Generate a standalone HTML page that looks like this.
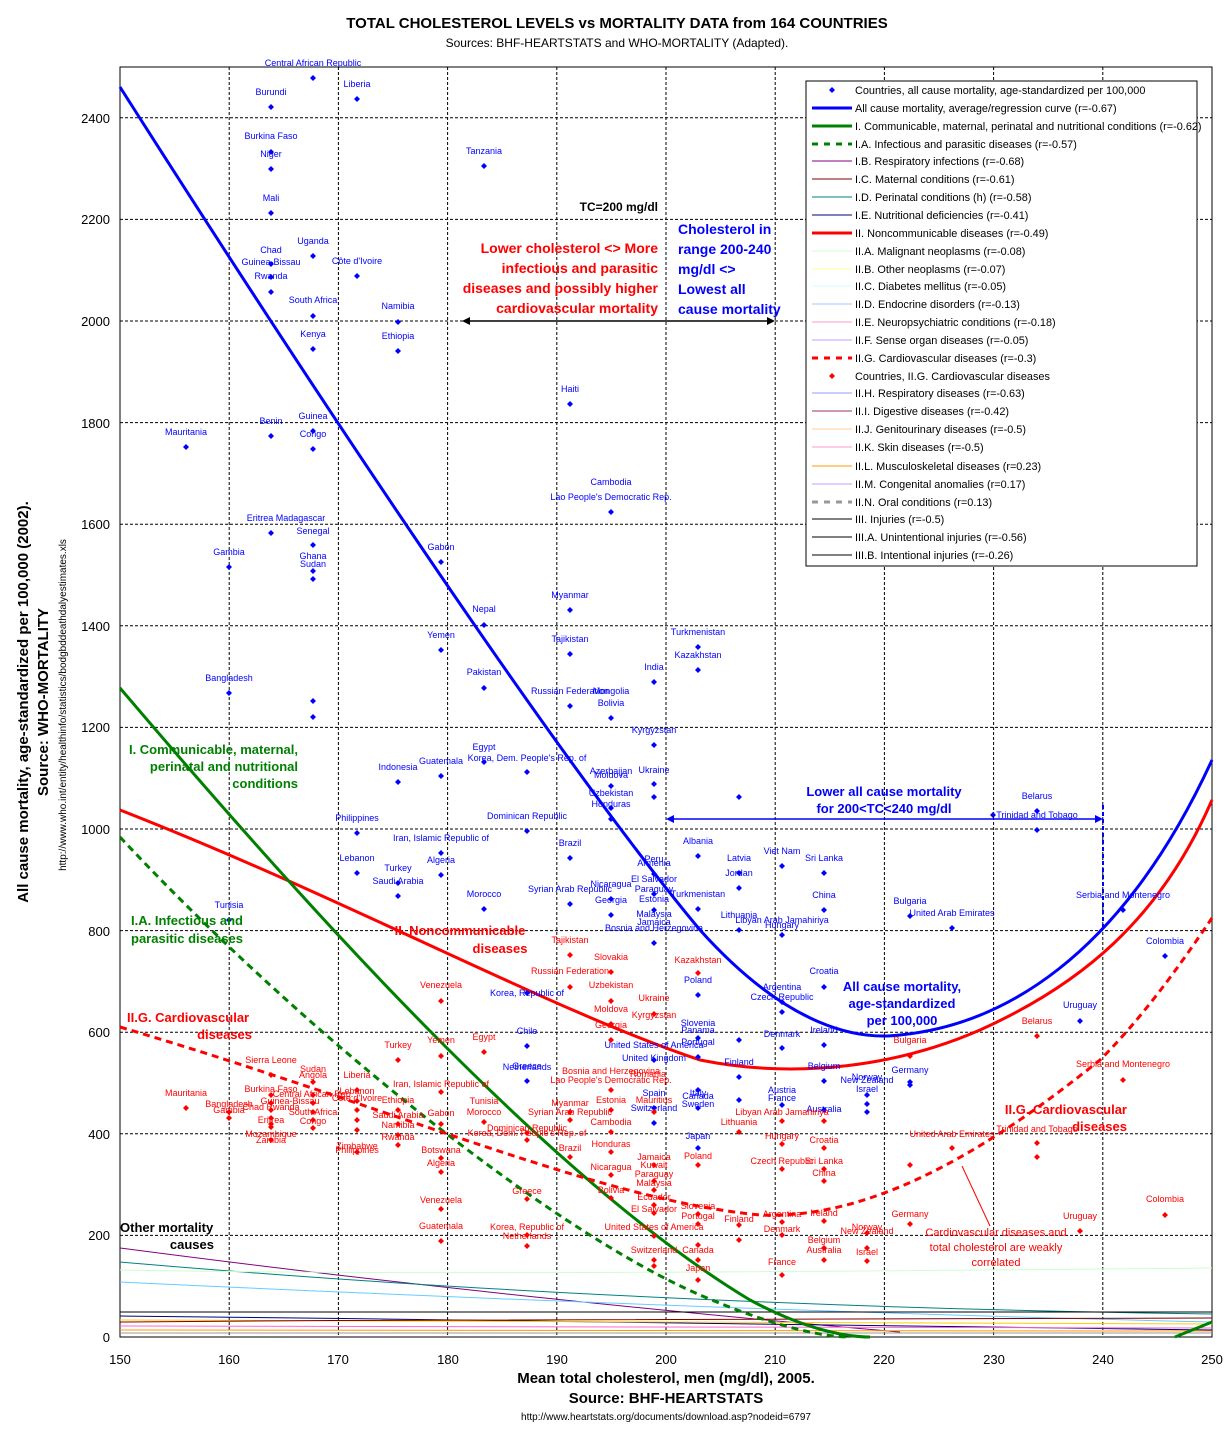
<!DOCTYPE html>
<html><head><meta charset="utf-8"><style>
body{margin:0;background:#fff}
svg{display:block;font-family:"Liberation Sans",Arial,sans-serif}
.b{fill:#0000ff}.r{fill:#ff0000}
.lb text{font-size:9px;text-anchor:middle}
</style></head><body>
<svg width="1224" height="1448" viewBox="0 0 1224 1448" xmlns="http://www.w3.org/2000/svg">
<defs><path id="d" d="M0,-3L3,0L0,3L-3,0Z"/></defs>
<rect width="1224" height="1448" fill="#fff"/>
<text x="617" y="28" font-size="15" font-weight="bold" text-anchor="middle">TOTAL CHOLESTEROL LEVELS vs MORTALITY DATA from 164 COUNTRIES</text>
<text x="617" y="47" font-size="12" text-anchor="middle">Sources: BHF-HEARTSTATS and WHO-MORTALITY (Adapted).</text>
<g stroke="#000" stroke-width="1" stroke-dasharray="3,2">
<line x1="229.2" y1="67" x2="229.2" y2="1337"/><line x1="338.4" y1="67" x2="338.4" y2="1337"/><line x1="447.6" y1="67" x2="447.6" y2="1337"/><line x1="556.8" y1="67" x2="556.8" y2="1337"/><line x1="666" y1="67" x2="666" y2="1337"/><line x1="775.2" y1="67" x2="775.2" y2="1337"/><line x1="884.4" y1="67" x2="884.4" y2="1337"/><line x1="993.6" y1="67" x2="993.6" y2="1337"/><line x1="1102.8" y1="67" x2="1102.8" y2="1337"/>
<line x1="120" y1="1235.4" x2="1212" y2="1235.4"/><line x1="120" y1="1133.8" x2="1212" y2="1133.8"/><line x1="120" y1="1032.2" x2="1212" y2="1032.2"/><line x1="120" y1="930.6" x2="1212" y2="930.6"/><line x1="120" y1="829" x2="1212" y2="829"/><line x1="120" y1="727.4" x2="1212" y2="727.4"/><line x1="120" y1="625.8" x2="1212" y2="625.8"/><line x1="120" y1="524.2" x2="1212" y2="524.2"/><line x1="120" y1="422.6" x2="1212" y2="422.6"/><line x1="120" y1="321" x2="1212" y2="321"/><line x1="120" y1="219.4" x2="1212" y2="219.4"/><line x1="120" y1="117.8" x2="1212" y2="117.8"/>
</g>
<rect x="120" y="67" width="1092" height="1270" fill="none" stroke="#000"/>
<g font-size="13" text-anchor="end">
<text x="110" y="1342">0</text><text x="110" y="1240">200</text><text x="110" y="1139">400</text><text x="110" y="1037">600</text><text x="110" y="936">800</text><text x="110" y="834">1000</text><text x="110" y="732">1200</text><text x="110" y="631">1400</text><text x="110" y="529">1600</text><text x="110" y="428">1800</text><text x="110" y="326">2000</text><text x="110" y="224">2200</text><text x="110" y="123">2400</text>
</g>
<g font-size="13" text-anchor="middle">
<text x="120" y="1364">150</text><text x="229" y="1364">160</text><text x="338" y="1364">170</text><text x="448" y="1364">180</text><text x="557" y="1364">190</text><text x="666" y="1364">200</text><text x="775" y="1364">210</text><text x="884" y="1364">220</text><text x="994" y="1364">230</text><text x="1103" y="1364">240</text><text x="1212" y="1364">250</text>
</g>
<text x="666" y="1383" font-size="15" font-weight="bold" text-anchor="middle">Mean total cholesterol, men (mg/dl), 2005.</text>
<text x="666" y="1403" font-size="15" font-weight="bold" text-anchor="middle">Source: BHF-HEARTSTATS</text>
<text x="666" y="1420" font-size="10" text-anchor="middle">http://www.heartstats.org/documents/download.asp?nodeid=6797</text>
<text transform="translate(28,702) rotate(-90)" font-size="15" font-weight="bold" text-anchor="middle">All cause mortality, age-standardized per 100,000 (2002).</text>
<text transform="translate(48,702) rotate(-90)" font-size="15" font-weight="bold" text-anchor="middle">Source: WHO-MORTALITY</text>
<text transform="translate(66,705) rotate(-90)" font-size="10" text-anchor="middle">http://www.who.int/entity/healthinfo/statistics/bodgbddeathdalyestimates.xls</text>
<g fill="none" stroke-width="1">
<path d="M120,1248 C400,1285 700,1315 900,1332" stroke="#800080"/>
<path d="M120,1262 C500,1295 900,1310 1212,1314" stroke="#008080"/>
<path d="M120,1282 C500,1300 900,1315 1212,1322" stroke="#66ccff"/>
<path d="M120,1270 C400,1275 800,1272 1212,1268" stroke="#ccffcc"/>
<path d="M120,1312 L1212,1312" stroke="#000"/>
<path d="M120,1316 C500,1320 900,1326 1212,1330" stroke="#000080"/>
<path d="M120,1320 L1212,1324" stroke="#ffcc00"/>
<path d="M120,1326 L1212,1328" stroke="#ff66cc"/>
<path d="M120,1330 L1212,1331" stroke="#ff9900"/>
<path d="M120,1333 L1212,1333" stroke="#999"/>
<path d="M120,1322 C500,1318 900,1322 1212,1318" stroke="#800000"/>
</g>
<path d="M120,87 C300,370 550,750 700,930 C790,1030 860,1040 900,1035 C1000,1025 1120,960 1212,760" fill="none" stroke="#0000ff" stroke-width="3"/>
<path d="M120,810 C350,900 550,1010 700,1060 C800,1080 900,1065 980,1030 C1080,985 1160,920 1212,800" fill="none" stroke="#ff0000" stroke-width="3"/>
<path d="M120,688 C300,900 550,1180 750,1300 C810,1332 850,1337 870,1337" fill="none" stroke="#008000" stroke-width="3"/>
<path d="M1175,1337 L1212,1322" fill="none" stroke="#008000" stroke-width="3"/>
<path d="M120,837 C300,1030 550,1230 700,1295 C770,1325 820,1337 850,1337" fill="none" stroke="#008000" stroke-width="3" stroke-dasharray="7,5"/>
<path d="M120,1027 C400,1110 600,1200 760,1215 C880,1220 1000,1140 1100,1060 C1150,1010 1190,950 1212,918" fill="none" stroke="#ff0000" stroke-width="3" stroke-dasharray="7,5"/>
<g class="b lb">
<use href="#d" x="313" y="78"/><text x="313" y="66">Central African Republic</text>
<use href="#d" x="357" y="99"/><text x="357" y="87">Liberia</text>
<use href="#d" x="271" y="107"/><text x="271" y="95">Burundi</text>
<use href="#d" x="271" y="152"/><text x="271" y="139">Burkina Faso</text>
<use href="#d" x="271" y="169"/><text x="271" y="157">Niger</text>
<use href="#d" x="484" y="166"/><text x="484" y="154">Tanzania</text>
<use href="#d" x="271" y="213"/><text x="271" y="201">Mali</text>
<use href="#d" x="313" y="256"/><text x="313" y="244">Uganda</text>
<use href="#d" x="271" y="264"/><text x="271" y="253">Chad</text>
<use href="#d" x="271" y="277"/><text x="271" y="265">Guinea-Bissau</text>
<use href="#d" x="357" y="276"/><text x="357" y="264">Côte d'Ivoire</text>
<use href="#d" x="271" y="292"/><text x="271" y="279">Rwanda</text>
<use href="#d" x="313" y="316"/><text x="313" y="303">South Africa</text>
<use href="#d" x="398" y="322"/><text x="398" y="309">Namibia</text>
<use href="#d" x="313" y="349"/><text x="313" y="337">Kenya</text>
<use href="#d" x="398" y="351"/><text x="398" y="339">Ethiopia</text>
<use href="#d" x="570" y="404"/><text x="570" y="392">Haiti</text>
<use href="#d" x="186" y="447"/><text x="186" y="435">Mauritania</text>
<use href="#d" x="271" y="436"/><text x="271" y="424">Benin</text>
<use href="#d" x="313" y="431"/><text x="313" y="419">Guinea</text>
<use href="#d" x="313" y="449"/><text x="313" y="437">Congo</text>
<text x="611" y="485">Cambodia</text>
<use href="#d" x="611" y="512"/><text x="611" y="500">Lao People's Democratic Rep.</text>
<use href="#d" x="271" y="533"/><text x="286" y="521">Eritrea Madagascar</text>
<use href="#d" x="313" y="545"/><text x="313" y="534">Senegal</text>
<use href="#d" x="229" y="567"/><text x="229" y="555">Gambia</text>
<use href="#d" x="441" y="562"/><text x="441" y="550">Gabon</text>
<use href="#d" x="313" y="571"/><text x="313" y="559">Ghana</text>
<use href="#d" x="313" y="579"/><text x="313" y="567">Sudan</text>
<use href="#d" x="484" y="625"/><text x="484" y="612">Nepal</text>
<use href="#d" x="570" y="610"/><text x="570" y="598">Myanmar</text>
<use href="#d" x="441" y="650"/><text x="441" y="638">Yemen</text>
<use href="#d" x="570" y="654"/><text x="570" y="642">Tajikistan</text>
<use href="#d" x="698" y="647"/><text x="698" y="635">Turkmenistan</text>
<use href="#d" x="698" y="670"/><text x="698" y="658">Kazakhstan</text>
<use href="#d" x="654" y="682"/><text x="654" y="670">India</text>
<use href="#d" x="229" y="693"/><text x="229" y="681">Bangladesh</text>
<use href="#d" x="484" y="688"/><text x="484" y="675">Pakistan</text>
<use href="#d" x="570" y="706"/><text x="570" y="694">Russian Federation</text>
<text x="611" y="694">Mongolia</text>
<use href="#d" x="611" y="718"/><text x="611" y="706">Bolivia</text>
<use href="#d" x="313" y="701"/><use href="#d" x="313" y="717"/>
<use href="#d" x="654" y="745"/><text x="654" y="733">Kyrgyzstan</text>
<use href="#d" x="484" y="762"/><text x="484" y="750">Egypt</text>
<use href="#d" x="527" y="772"/><text x="527" y="761">Korea, Dem. People's Rep. of</text>
<use href="#d" x="398" y="782"/><text x="398" y="770">Indonesia</text>
<use href="#d" x="441" y="776"/><text x="441" y="764">Guatemala</text>
<use href="#d" x="611" y="786"/><text x="611" y="774">Azerbaijan</text><text x="611" y="778">Moldova</text>
<use href="#d" x="654" y="784"/><text x="654" y="773">Ukraine</text>
<use href="#d" x="611" y="808"/><text x="611" y="796">Uzbekistan</text>
<use href="#d" x="611" y="819"/><text x="611" y="807">Honduras</text>
<use href="#d" x="654" y="797"/><use href="#d" x="739" y="797"/>
<use href="#d" x="357" y="833"/><text x="357" y="821">Philippines</text>
<use href="#d" x="527" y="831"/><text x="527" y="819">Dominican Republic</text>
<use href="#d" x="441" y="853"/><text x="441" y="841">Iran, Islamic Republic of</text>
<use href="#d" x="570" y="858"/><text x="570" y="846">Brazil</text>
<use href="#d" x="698" y="856"/><text x="698" y="844">Albania</text>
<use href="#d" x="739" y="873"/><text x="739" y="861">Latvia</text>
<use href="#d" x="782" y="866"/><text x="782" y="854">Viet Nam</text>
<use href="#d" x="824" y="873"/><text x="824" y="861">Sri Lanka</text>
<use href="#d" x="357" y="873"/><text x="357" y="861">Lebanon</text>
<use href="#d" x="441" y="875"/><text x="441" y="863">Algeria</text>
<use href="#d" x="398" y="883"/><text x="398" y="871">Turkey</text>
<use href="#d" x="398" y="896"/><text x="398" y="884">Saudi Arabia</text>
<use href="#d" x="654" y="874"/><text x="654" y="862">Peru</text><text x="654" y="866">Armenia</text>
<use href="#d" x="739" y="888"/><text x="739" y="876">Jordan</text>
<use href="#d" x="484" y="909"/><text x="484" y="897">Morocco</text>
<use href="#d" x="570" y="904"/><text x="570" y="892">Syrian Arab Republic</text>
<use href="#d" x="611" y="899"/><text x="611" y="887">Nicaragua</text>
<use href="#d" x="654" y="894"/><text x="654" y="882">El Salvador</text><text x="654" y="892">Paraguay</text><text x="654" y="902">Estonia</text>
<use href="#d" x="611" y="915"/><text x="611" y="903">Georgia</text>
<use href="#d" x="654" y="910"/><text x="654" y="917">Malaysia</text><text x="654" y="925">Jamaica</text>
<use href="#d" x="698" y="909"/><text x="698" y="897">Turkmenistan</text>
<use href="#d" x="824" y="910"/><text x="824" y="898">China</text>
<use href="#d" x="910" y="916"/><text x="910" y="904">Bulgaria</text>
<use href="#d" x="952" y="928"/><text x="952" y="916">United Arab Emirates</text>
<use href="#d" x="739" y="930"/><text x="739" y="918">Lithuania</text>
<use href="#d" x="782" y="935"/><text x="782" y="923">Libyan Arab Jamahiriya</text><text x="782" y="928">Hungary</text>
<use href="#d" x="229" y="920"/><text x="229" y="908">Tunisia</text>
<use href="#d" x="654" y="943"/><text x="654" y="931">Bosnia and Herzegovina</text>
<use href="#d" x="1123" y="910"/><text x="1123" y="898">Serbia and Montenegro</text>
<use href="#d" x="1165" y="956"/><text x="1165" y="944">Colombia</text>
<use href="#d" x="1037" y="811"/><text x="1037" y="799">Belarus</text>
<use href="#d" x="1037" y="830"/><text x="1037" y="818">Trinidad and Tobago</text>
<use href="#d" x="993" y="815"/>
<use href="#d" x="782" y="1002"/><text x="782" y="990">Argentina</text>
<use href="#d" x="782" y="1012"/><text x="782" y="1000">Czech Republic</text>
<use href="#d" x="824" y="987"/><text x="824" y="974">Croatia</text>
<use href="#d" x="698" y="995"/><text x="698" y="983">Poland</text>
<use href="#d" x="698" y="1038"/><text x="698" y="1026">Slovenia</text>
<use href="#d" x="1080" y="1021"/><text x="1080" y="1008">Uruguay</text>
<use href="#d" x="782" y="1048"/><text x="782" y="1037">Denmark</text>
<use href="#d" x="824" y="1045"/><text x="824" y="1033">Ireland</text>
<use href="#d" x="739" y="1077"/><text x="739" y="1065">Finland</text>
<use href="#d" x="824" y="1081"/><text x="824" y="1069">Belgium</text>
<use href="#d" x="910" y="1085"/><text x="910" y="1073">Germany</text>
<use href="#d" x="867" y="1095"/><text x="867" y="1080">Norway</text><text x="867" y="1083">New Zealand</text>
<use href="#d" x="867" y="1104"/><text x="867" y="1092">Israel</text><use href="#d" x="867" y="1112"/>
<use href="#d" x="782" y="1105"/><text x="782" y="1093">Austria</text><text x="782" y="1101">France</text>
<use href="#d" x="527" y="1081"/><text x="527" y="1069">Greece</text><text x="527" y="1070">Netherlands</text>
<use href="#d" x="527" y="1046"/><text x="527" y="1034">Chile</text>
<use href="#d" x="698" y="1057"/><text x="698" y="1045">Portugal</text><text x="698" y="1033">Panama</text>
<use href="#d" x="654" y="1108"/><text x="654" y="1096">Spain</text>
<use href="#d" x="654" y="1123"/><text x="654" y="1111">Switzerland</text>
<use href="#d" x="698" y="1108"/><text x="698" y="1096">Italy</text><text x="698" y="1099">Canada</text><text x="698" y="1107">Sweden</text>
<use href="#d" x="698" y="1148"/><text x="698" y="1139">Japan</text>
<use href="#d" x="654" y="1060"/><text x="654" y="1048">United States of America</text><text x="654" y="1061">United Kingdom</text>
<use href="#d" x="527" y="993"/><text x="527" y="996">Korea, Republic of</text>
<use href="#d" x="824" y="1110"/><text x="824" y="1112">Australia</text>
<use href="#d" x="910" y="1082"/><use href="#d" x="739" y="1040"/><use href="#d" x="739" y="1100"/><use href="#d" x="698" y="1090"/>
</g>
<g class="r lb">
<use href="#d" x="570" y="955"/><text x="570" y="943">Tajikistan</text>
<use href="#d" x="698" y="973"/><text x="698" y="963">Kazakhstan</text>
<use href="#d" x="570" y="987"/><text x="570" y="974">Russian Federation</text>
<use href="#d" x="611" y="972"/><text x="611" y="960">Slovakia</text>
<use href="#d" x="611" y="1001"/><text x="611" y="988">Uzbekistan</text>
<use href="#d" x="441" y="1001"/><text x="441" y="988">Venezuela</text>
<use href="#d" x="654" y="1014"/><text x="654" y="1001">Ukraine</text><text x="654" y="1018">Kyrgyzstan</text>
<use href="#d" x="611" y="1024"/><text x="611" y="1012">Moldova</text>
<use href="#d" x="611" y="1040"/><text x="611" y="1028">Georgia</text>
<use href="#d" x="398" y="1060"/><text x="398" y="1048">Turkey</text>
<use href="#d" x="441" y="1056"/><text x="441" y="1043">Yemen</text>
<use href="#d" x="484" y="1052"/><text x="484" y="1040">Egypt</text>
<use href="#d" x="910" y="1056"/><text x="910" y="1043">Bulgaria</text>
<use href="#d" x="1037" y="1036"/><text x="1037" y="1024">Belarus</text>
<use href="#d" x="1123" y="1080"/><text x="1123" y="1067">Serbia and Montenegro</text>
<use href="#d" x="271" y="1075"/><text x="271" y="1063">Sierra Leone</text>
<use href="#d" x="313" y="1082"/><text x="313" y="1072">Sudan</text><text x="313" y="1078">Angola</text>
<use href="#d" x="357" y="1090"/><text x="357" y="1078">Liberia</text>
<use href="#d" x="186" y="1108"/><text x="186" y="1096">Mauritania</text>
<use href="#d" x="229" y="1112"/><text x="229" y="1107">Bangladesh</text><text x="229" y="1113">Gambia</text>
<use href="#d" x="229" y="1118"/><use href="#d" x="271" y="1095"/><use href="#d" x="271" y="1103"/><use href="#d" x="271" y="1110"/><use href="#d" x="271" y="1118"/><use href="#d" x="271" y="1124"/><use href="#d" x="313" y="1095"/><use href="#d" x="313" y="1103"/><use href="#d" x="313" y="1112"/><use href="#d" x="313" y="1120"/><use href="#d" x="313" y="1128"/><use href="#d" x="357" y="1110"/><use href="#d" x="357" y="1120"/><use href="#d" x="357" y="1130"/>
<text x="271" y="1092">Burkina Faso</text><text x="313" y="1097">Central African Rep.</text><text x="290" y="1104">Guinea-Bissau</text><text x="271" y="1110">Chad Rwanda</text><text x="313" y="1115">South Africa</text><text x="313" y="1124">Congo</text><text x="357" y="1101">Côte d'Ivoire</text>
<use href="#d" x="611" y="1090"/><text x="611" y="1083">Lao People's Democratic Rep.</text><text x="611" y="1074">Bosnia and Herzegovina</text><text x="648" y="1077">Romania</text>
<use href="#d" x="441" y="1092"/><text x="441" y="1087">Iran, Islamic Republic of</text>
<use href="#d" x="357" y="1101"/><text x="357" y="1094">Lebanon</text>
<use href="#d" x="398" y="1110"/><text x="398" y="1103">Ethiopia</text>
<use href="#d" x="441" y="1124"/><text x="441" y="1116">Gabon</text>
<use href="#d" x="484" y="1122"/><text x="484" y="1104">Tunisia</text><text x="484" y="1115">Morocco</text>
<use href="#d" x="570" y="1112"/><text x="570" y="1106">Myanmar</text>
<use href="#d" x="611" y="1110"/><text x="611" y="1103">Estonia</text>
<use href="#d" x="654" y="1112"/><text x="654" y="1103">Mauritius</text>
<use href="#d" x="398" y="1124"/><text x="398" y="1118">Saudi Arabia</text>
<use href="#d" x="398" y="1135"/><text x="398" y="1128">Namibia</text>
<use href="#d" x="398" y="1145"/><text x="398" y="1140">Rwanda</text>
<use href="#d" x="570" y="1120"/><text x="570" y="1115">Syrian Arab Republic</text>
<use href="#d" x="611" y="1132"/><text x="611" y="1125">Cambodia</text>
<use href="#d" x="739" y="1132"/><text x="739" y="1125">Lithuania</text>
<use href="#d" x="782" y="1121"/><text x="782" y="1115">Libyan Arab Jamahiriya</text>
<use href="#d" x="824" y="1121"/>
<use href="#d" x="527" y="1140"/><text x="527" y="1136">Korea, Dem. People's Rep. of</text>
<use href="#d" x="527" y="1133"/><text x="527" y="1131">Dominican Republic</text>
<use href="#d" x="611" y="1152"/><text x="611" y="1147">Honduras</text>
<use href="#d" x="782" y="1144"/><text x="782" y="1139">Hungary</text>
<use href="#d" x="824" y="1148"/><text x="824" y="1143">Croatia</text>
<use href="#d" x="952" y="1148"/><text x="952" y="1137">United Arab Emirates</text>
<use href="#d" x="1037" y="1143"/><text x="1037" y="1132">Trinidad and Tobago</text><use href="#d" x="1037" y="1157"/>
<use href="#d" x="570" y="1157"/><text x="570" y="1151">Brazil</text>
<use href="#d" x="441" y="1158"/><text x="441" y="1153">Botswana</text>
<use href="#d" x="357" y="1152"/><text x="357" y="1149">Zimbabwe</text><text x="357" y="1153">Philippines</text>
<use href="#d" x="271" y="1140"/><text x="271" y="1137">Mozambique</text><text x="271" y="1143">Zambia</text>
<use href="#d" x="271" y="1127"/><text x="271" y="1123">Eritrea</text>
<use href="#d" x="441" y="1172"/><text x="441" y="1166">Algeria</text>
<use href="#d" x="654" y="1165"/><text x="654" y="1160">Jamaica</text><text x="654" y="1168">Kuwait</text>
<use href="#d" x="611" y="1175"/><text x="611" y="1170">Nicaragua</text>
<use href="#d" x="698" y="1165"/><text x="698" y="1159">Poland</text>
<use href="#d" x="782" y="1169"/><text x="782" y="1164">Czech Republic</text>
<use href="#d" x="824" y="1169"/><text x="824" y="1164">Sri Lanka</text>
<use href="#d" x="824" y="1181"/><text x="824" y="1176">China</text>
<use href="#d" x="654" y="1181"/><text x="654" y="1177">Paraguay</text>
<use href="#d" x="654" y="1190"/><text x="654" y="1186">Malaysia</text>
<use href="#d" x="527" y="1199"/><text x="527" y="1194">Greece</text>
<use href="#d" x="611" y="1198"/><text x="611" y="1193">Bolivia</text>
<use href="#d" x="441" y="1209"/><text x="441" y="1203">Venezuela</text>
<use href="#d" x="654" y="1205"/><text x="654" y="1200">Ecuador</text>
<use href="#d" x="698" y="1214"/><text x="698" y="1209">Slovenia</text>
<use href="#d" x="654" y="1213"/><text x="654" y="1212">El Salvador</text>
<use href="#d" x="698" y="1224"/><text x="698" y="1219">Portugal</text>
<use href="#d" x="782" y="1222"/><text x="782" y="1217">Argentina</text>
<use href="#d" x="824" y="1221"/><text x="824" y="1216">Ireland</text>
<use href="#d" x="910" y="1224"/><text x="910" y="1217">Germany</text>
<use href="#d" x="1080" y="1231"/><text x="1080" y="1219">Uruguay</text>
<use href="#d" x="1165" y="1215"/><text x="1165" y="1202">Colombia</text>
<use href="#d" x="739" y="1225"/><text x="739" y="1222">Finland</text>
<use href="#d" x="441" y="1241"/><text x="441" y="1229">Guatemala</text>
<use href="#d" x="527" y="1235"/><text x="527" y="1230">Korea, Republic of</text>
<use href="#d" x="527" y="1246"/><text x="527" y="1239">Netherlands</text>
<use href="#d" x="654" y="1236"/><text x="654" y="1230">United States of America</text>
<use href="#d" x="782" y="1235"/><text x="782" y="1232">Denmark</text>
<use href="#d" x="867" y="1233"/><text x="867" y="1234">New Zealand</text><text x="867" y="1230">Norway</text>
<use href="#d" x="824" y="1248"/><text x="824" y="1243">Belgium</text>
<use href="#d" x="867" y="1261"/><text x="867" y="1255">Israel</text>
<use href="#d" x="654" y="1260"/><text x="654" y="1253">Switzerland</text>
<use href="#d" x="698" y="1260"/><text x="698" y="1253">Canada</text>
<use href="#d" x="824" y="1260"/><text x="824" y="1253">Australia</text>
<use href="#d" x="654" y="1266"/>
<use href="#d" x="698" y="1280"/><text x="698" y="1271">Japan</text>
<use href="#d" x="782" y="1275"/><text x="782" y="1265">France</text>
<use href="#d" x="867" y="1248"/><use href="#d" x="910" y="1165"/><use href="#d" x="739" y="1240"/><use href="#d" x="698" y="1245"/>
</g>
<text x="658" y="211" font-size="12" font-weight="bold" text-anchor="end">TC=200 mg/dl</text>
<g fill="#ff0000" font-size="14" font-weight="bold" text-anchor="end">
<text x="658" y="253">Lower cholesterol &lt;&gt; More</text><text x="658" y="273">infectious and parasitic</text><text x="658" y="293">diseases and possibly higher</text><text x="658" y="313">cardiovascular mortality</text></g>
<g fill="#0000ff" font-size="14" font-weight="bold">
<text x="678" y="234">Cholesterol  in</text><text x="678" y="254">range 200-240</text><text x="678" y="274">mg/dl &lt;&gt;</text><text x="678" y="294">Lowest all</text><text x="678" y="314">cause mortality</text></g>
<g stroke="#000" stroke-width="1.5"><line x1="466" y1="321" x2="771" y2="321"/></g>
<path d="M462,321 l8,-4 v8z M775,321 l-8,-4 v8z" fill="#000"/>
<g fill="#0000ff" font-size="13" font-weight="bold" text-anchor="middle">
<text x="884" y="796">Lower all cause mortality</text><text x="884" y="813">for 200&lt;TC&lt;240 mg/dl</text>
<text x="902" y="991">All cause mortality,</text><text x="902" y="1008">age-standardized</text><text x="902" y="1025">per 100,000</text></g>
<line x1="670" y1="819" x2="1099" y2="819" stroke="#0000ff" stroke-width="1.5"/>
<path d="M666,819 l8,-4 v8z M1103,819 l-8,-4 v8z" fill="#0000ff"/>
<line x1="1103" y1="805" x2="1103" y2="930" stroke="#0000ff" stroke-width="2" stroke-dasharray="4,3"/>
<g fill="#008000" font-size="13" font-weight="bold">
<text x="298" y="754" text-anchor="end">I. Communicable, maternal,</text><text x="298" y="771" text-anchor="end">perinatal and nutritional</text><text x="298" y="788" text-anchor="end">conditions</text>
<text x="131" y="925">I.A. Infectious and</text><text x="131" y="943">parasitic diseases</text></g>
<g fill="#ff0000" font-size="13" font-weight="bold">
<text x="460" y="935" text-anchor="middle">II. Noncommunicable</text><text x="500" y="953" text-anchor="middle">diseases</text>
<text x="127" y="1022">II.G. Cardiovascular</text><text x="252" y="1039" text-anchor="end">diseases</text>
<text x="1127" y="1114" text-anchor="end">II.G. Cardiovascular</text><text x="1127" y="1131" text-anchor="end">diseases</text></g>
<g fill="#ff0000" font-size="11" text-anchor="middle">
<text x="996" y="1236">Cardiovascular diseases and</text><text x="996" y="1251">total cholesterol are weakly</text><text x="996" y="1266">correlated</text></g>
<line x1="990" y1="1226" x2="962" y2="1166" stroke="#ff0000"/>
<g font-size="13" font-weight="bold"><text x="120" y="1232">Other mortality</text><text x="214" y="1249" text-anchor="end">causes</text></g>
<rect x="806" y="81" width="391" height="485" fill="#fff" stroke="#000"/>
<g font-size="10.9">
<use href="#d" x="832" y="90" fill="#0000ff"/><text x="855" y="94">Countries, all cause mortality, age-standardized per 100,000</text>
<line x1="812" y1="108" x2="852" y2="108" stroke="#0000ff" stroke-width="3"/><text x="855" y="112">All cause mortality, average/regression curve (r=-0.67)</text>
<line x1="812" y1="126" x2="852" y2="126" stroke="#008000" stroke-width="3"/><text x="855" y="130">I. Communicable, maternal, perinatal and nutritional conditions (r=-0.62)</text>
<line x1="812" y1="144" x2="852" y2="144" stroke="#008000" stroke-width="3" stroke-dasharray="6,6"/><text x="855" y="148">I.A. Infectious and parasitic diseases (r=-0.57)</text>
<line x1="812" y1="161" x2="852" y2="161" stroke="#800080"/><text x="855" y="165">I.B. Respiratory infections (r=-0.68)</text>
<line x1="812" y1="179" x2="852" y2="179" stroke="#800000"/><text x="855" y="183">I.C. Maternal conditions (r=-0.61)</text>
<line x1="812" y1="197" x2="852" y2="197" stroke="#008080"/><text x="855" y="201">I.D. Perinatal conditions (h) (r=-0.58)</text>
<line x1="812" y1="215" x2="852" y2="215" stroke="#000080"/><text x="855" y="219">I.E. Nutritional deficiencies (r=-0.41)</text>
<line x1="812" y1="233" x2="852" y2="233" stroke="#ff0000" stroke-width="3"/><text x="855" y="237">II. Noncommunicable diseases (r=-0.49)</text>
<line x1="812" y1="251" x2="852" y2="251" stroke="#ccffcc"/><text x="855" y="255">II.A. Malignant neoplasms (r=-0.08)</text>
<line x1="812" y1="269" x2="852" y2="269" stroke="#ffff99"/><text x="855" y="273">II.B. Other neoplasms (r=-0.07)</text>
<line x1="812" y1="286" x2="852" y2="286" stroke="#ccffff"/><text x="855" y="290">II.C. Diabetes mellitus (r=-0.05)</text>
<line x1="812" y1="304" x2="852" y2="304" stroke="#99ccff"/><text x="855" y="308">II.D. Endocrine disorders (r=-0.13)</text>
<line x1="812" y1="322" x2="852" y2="322" stroke="#ff99cc"/><text x="855" y="326">II.E. Neuropsychiatric conditions (r=-0.18)</text>
<line x1="812" y1="340" x2="852" y2="340" stroke="#cc99ff"/><text x="855" y="344">II.F. Sense organ diseases (r=-0.05)</text>
<line x1="812" y1="358" x2="852" y2="358" stroke="#ff0000" stroke-width="3" stroke-dasharray="6,6"/><text x="855" y="362">II.G. Cardiovascular diseases (r=-0.3)</text>
<use href="#d" x="832" y="376" fill="#ff0000"/><text x="855" y="380">Countries, II.G. Cardiovascular diseases</text>
<line x1="812" y1="393" x2="852" y2="393" stroke="#9999ff"/><text x="855" y="397">II.H. Respiratory diseases (r=-0.63)</text>
<line x1="812" y1="411" x2="852" y2="411" stroke="#993366"/><text x="855" y="415">II.I. Digestive diseases (r=-0.42)</text>
<line x1="812" y1="429" x2="852" y2="429" stroke="#ffcc99"/><text x="855" y="433">II.J. Genitourinary diseases (r=-0.5)</text>
<line x1="812" y1="447" x2="852" y2="447" stroke="#ff99cc"/><text x="855" y="451">II.K. Skin diseases (r=-0.5)</text>
<line x1="812" y1="466" x2="852" y2="466" stroke="#ff9900"/><text x="855" y="470">II.L. Musculoskeletal diseases (r=0.23)</text>
<line x1="812" y1="484" x2="852" y2="484" stroke="#cc99ff"/><text x="855" y="488">II.M. Congenital anomalies (r=0.17)</text>
<line x1="812" y1="502" x2="852" y2="502" stroke="#999" stroke-width="3" stroke-dasharray="6,6"/><text x="855" y="506">II.N. Oral conditions (r=0.13)</text>
<line x1="812" y1="519" x2="852" y2="519" stroke="#000"/><text x="855" y="523">III. Injuries (r=-0.5)</text>
<line x1="812" y1="537" x2="852" y2="537" stroke="#000"/><text x="855" y="541">III.A. Unintentional injuries (r=-0.56)</text>
<line x1="812" y1="555" x2="852" y2="555" stroke="#000"/><text x="855" y="559">III.B. Intentional injuries (r=-0.26)</text>
</g>
</svg>
</body></html>
